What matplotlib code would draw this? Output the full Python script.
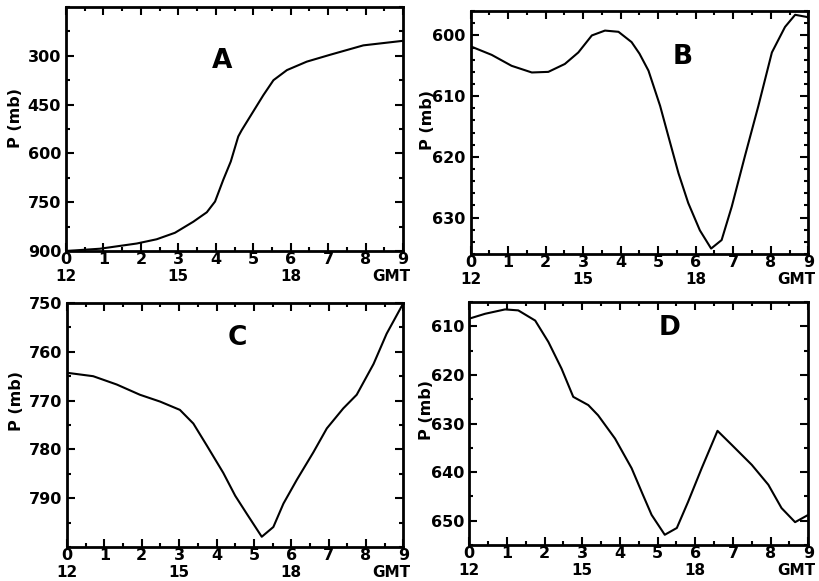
import matplotlib
matplotlib.use("Agg")
import matplotlib.pyplot as plt
import matplotlib.transforms as mtransforms
from matplotlib.ticker import MultipleLocator

# Hours after 12 GMT and pressure (mb)
a_x = [0.0, 0.91, 1.89, 2.42, 2.91, 3.40, 3.76, 3.98, 4.20, 4.40, 4.60, 4.69, 4.91, 5.27,
       5.54, 5.90, 6.43, 7.05, 7.94, 9.0]
a_p = [900, 893, 877, 864, 844, 810, 781, 748, 681, 625, 548, 529, 488, 421,
       375, 344, 318, 297, 268, 254]

b_x = [0.0, 0.56, 1.09, 1.63, 2.07, 2.51, 2.87, 3.23, 3.58, 3.94, 4.29, 4.50, 4.74, 5.05,
       5.27, 5.54, 5.80, 6.11, 6.41, 6.69, 6.96, 7.31, 7.67, 8.03, 8.38, 8.65, 9.0]
b_p = [601.8, 603.2, 605.0, 606.1, 606.0, 604.7, 602.8, 600.0, 599.2, 599.4, 601.1, 603.0,
       605.8, 611.6, 616.6, 622.7, 627.6, 632.1, 635.1, 633.7, 628.2, 619.9, 611.6, 602.8,
       598.6, 596.6, 597.0]

c_x = [0.0, 0.70, 1.33, 1.95, 2.49, 3.02, 3.38, 3.74, 4.18, 4.50, 4.81, 5.21, 5.52, 5.79,
       6.15, 6.59, 6.95, 7.39, 7.75, 8.20, 8.55, 9.0]
c_p = [764.3, 765.0, 766.7, 768.8, 770.2, 771.9, 774.7, 779.2, 784.8, 789.5, 793.2, 797.9,
       795.9, 791.1, 786.2, 780.6, 775.7, 771.6, 768.8, 762.5, 756.3, 750.0]

d_x = [0.0, 0.42, 0.95, 1.30, 1.75, 2.10, 2.45, 2.76, 3.16, 3.42, 3.87, 4.31, 4.60, 4.84,
       5.19, 5.51, 5.81, 6.17, 6.59, 6.97, 7.50, 7.94, 8.29, 8.65, 9.0]
d_p = [608.4, 607.4, 606.5, 606.7, 608.8, 613.2, 618.7, 624.5, 626.2, 628.3, 633.1, 639.2,
       644.5, 648.8, 652.9, 651.5, 646.1, 639.2, 631.5, 634.4, 638.5, 642.6, 647.4, 650.3,
       648.8]

x_ticks = list(range(10))
gmt_pos = [0, 3, 6]
gmt_labels = ["12", "15", "18"]

panels = [
    # letter, x, p, rect, ylim, yticks, minor step, letter pos, ylabel pos
    ("A", a_x, a_p, [0.0806, 0.568, 0.4115, 0.420], (900, 150), [300, 450, 600, 750, 900], 75,
     (0.463, 0.78), (-0.128, 0.545)),
    ("B", b_x, b_p, [0.5747, 0.5628, 0.4122, 0.418], (636, 596), [600, 610, 620, 630], 2,
     (0.627, 0.81), (-0.105, 0.55)),
    ("C", c_x, c_p, [0.0818, 0.0585, 0.4108, 0.420], (800, 750), [750, 760, 770, 780, 790], 5,
     (0.506, 0.857), (-0.128, 0.6)),
    ("D", d_x, d_p, [0.5730, 0.062, 0.4139, 0.418], (655, 605), [610, 620, 630, 640, 650], 5,
     (0.59, 0.893), (-0.105, 0.556)),
]

plt.rcParams["font.family"] = "DejaVu Sans"
plt.rcParams["font.weight"] = "bold"

fig = plt.figure(figsize=(8.19, 5.81), dpi=100)

for letter, xs, ps, rect, ylim, yticks, minor, lpos, ylpos in panels:
    ax = fig.add_axes(rect)
    ax.plot(xs, ps, color="black", lw=1.5)
    ax.set_xlim(0, 9)
    ax.set_ylim(*ylim)
    ax.set_xticks(x_ticks)
    ax.set_xticklabels([str(t) for t in x_ticks], fontsize=11.5, fontweight="bold")
    ax.xaxis.set_minor_locator(MultipleLocator(0.5))
    ax.set_yticks(yticks)
    ax.set_yticklabels([str(t) for t in yticks], fontsize=11.5, fontweight="bold")
    ax.yaxis.set_minor_locator(MultipleLocator(minor))
    ax.tick_params(which="both", direction="in", top=True, right=True, width=1.5)
    ax.tick_params(which="major", length=6)
    ax.tick_params(which="minor", length=3)
    ax.tick_params(axis="x", which="major", pad=1)
    ax.tick_params(axis="y", which="major", pad=3.5)
    for s in ax.spines.values():
        s.set_linewidth(2)

    # second row of x labels: GMT hours
    trans = mtransforms.blended_transform_factory(ax.transData, ax.transAxes)
    for pos, lab in zip(gmt_pos, gmt_labels):
        ax.annotate(lab, xy=(pos, 0), xycoords=trans, xytext=(0, -13),
                    textcoords="offset points", ha="center", va="top",
                    fontsize=11, fontweight="bold")
    ax.annotate("GMT", xy=(9, 0), xycoords=trans, xytext=(5, -13),
                textcoords="offset points", ha="right", va="top",
                fontsize=11, fontweight="bold")

    ax.text(lpos[0], lpos[1], letter, transform=ax.transAxes, ha="center", va="center",
            fontsize=19, fontweight="bold")
    ax.set_ylabel("P (mb)", fontsize=11.5, fontweight="bold")
    ax.yaxis.set_label_coords(*ylpos)

fig.savefig("out.png", dpi=100)
